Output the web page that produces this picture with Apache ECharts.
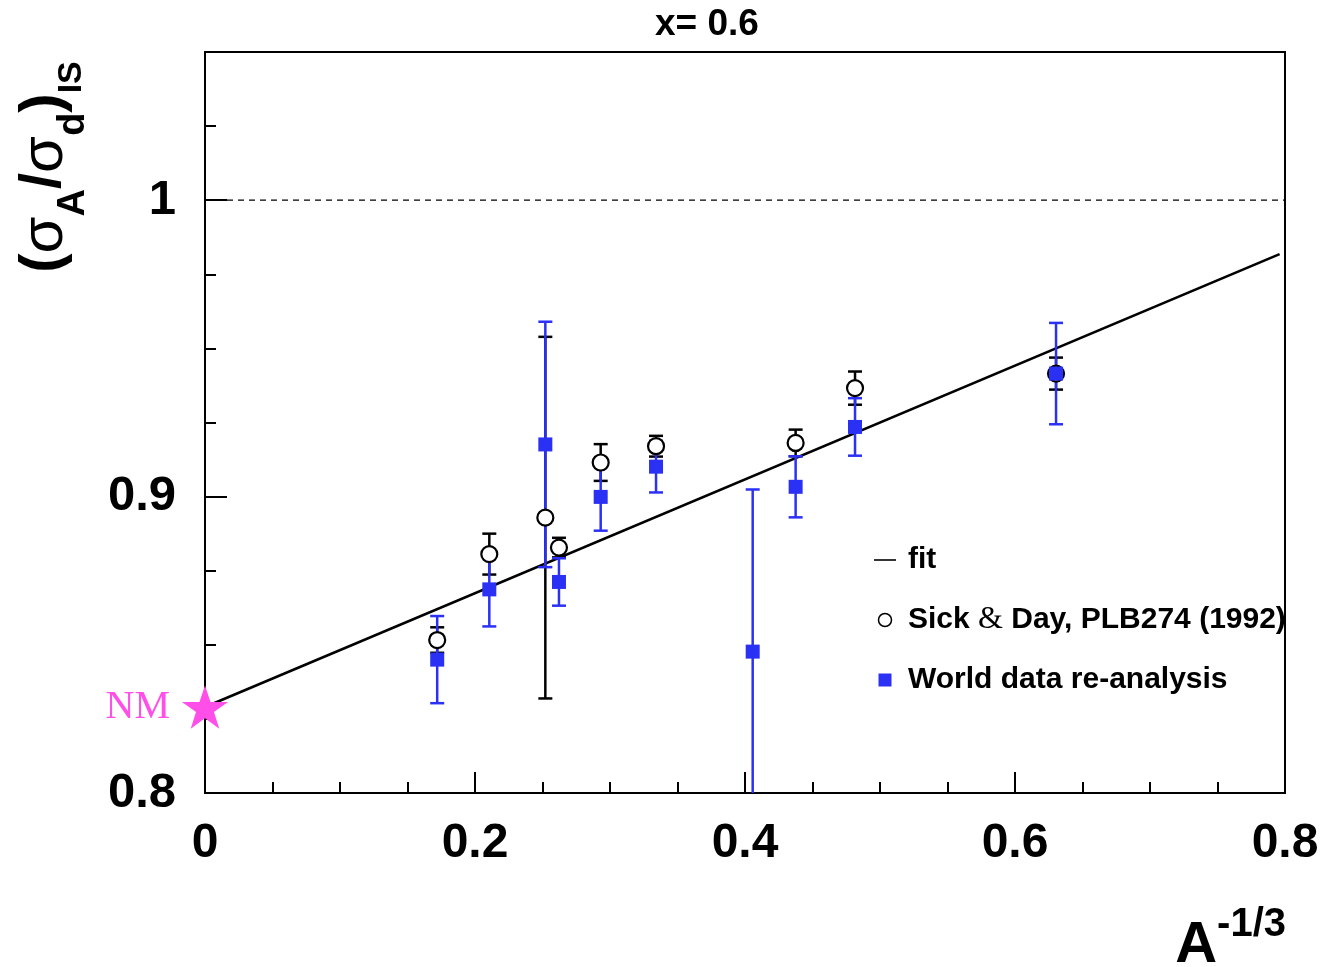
<!DOCTYPE html>
<html>
<head>
<meta charset="utf-8">
<script src="https://cdn.jsdelivr.net/npm/echarts@6/dist/echarts.min.js"></script>
<style>html,body{margin:0;padding:0;background:#fff;}#chart{width:1323px;height:967px;}</style>
</head>
<body>
<div id="chart"></div>
<script>
// ---- data ----
const worldX   = [0.172, 0.2106, 0.2521, 0.2622, 0.2931, 0.3341, 0.4057, 0.4375, 0.4815, 0.6304];
const worldY   = [0.845, 0.8687, 0.9176, 0.8712, 0.8999, 0.9101, 0.8477, 0.9033, 0.9235, 0.9415];
const worldErr = [0.0147, 0.0125, 0.0414, 0.0080, 0.0114, 0.0087, 0.0547, 0.0103, 0.0097, 0.0171];

const sickX    = [0.172, 0.2106, 0.2521, 0.2622, 0.2931, 0.3341, 0.4375, 0.4815, 0.6304];
const sickY    = [0.8516, 0.8806, 0.8929, 0.8828, 0.9115, 0.9170, 0.9181, 0.9366, 0.9415];
const sickErr  = [0.0043, 0.0069, 0.0610, 0.0033, 0.0062, 0.0035, 0.0045, 0.0056, 0.0054];

const fitX = [0, 0.796];
const fitY = [0.829, 0.9818];

const refX = [0, 0.8];
const refY = [1, 1];

const nmX = [0];
const nmY = [0.829];

const xTickLabels = ['0', '0.2', '0.4', '0.6', '0.8'];
const yTickLabels = ['0.8', '0.9', '1'];

const NAME_FIT = 'fit';
const NAME_SICK = 'Sick & Day, PLB274 (1992)';
const NAME_WORLD = 'World data re-analysis';

const BLUE = '#2b30f5';
const MAGENTA = '#ff4fe8';
const FONT = '"Liberation Sans", Arial, Helvetica, sans-serif';
const SERIF = '"Liberation Serif", "Times New Roman", serif';

const zip3 = (a, b, c) => a.map((v, i) => [v, b[i], c[i]]);
const zip2 = (a, b) => a.map((v, i) => [v, b[i]]);

function errRender(color) {
  return function (params, api) {
    const x = api.value(0), y = api.value(1), e = api.value(2);
    const top = api.coord([x, y + e]);
    const bot = api.coord([x, y - e]);
    const hw = 7;
    const st = { stroke: color, lineWidth: 2.5 };
    return {
      type: 'group',
      children: [
        { type: 'line', shape: { x1: top[0], y1: top[1], x2: bot[0], y2: bot[1] }, style: st },
        { type: 'line', shape: { x1: top[0] - hw, y1: top[1], x2: top[0] + hw, y2: top[1] }, style: st },
        { type: 'line', shape: { x1: bot[0] - hw, y1: bot[1], x2: bot[0] + hw, y2: bot[1] }, style: st }
      ]
    };
  };
}

const chart = echarts.init(document.getElementById('chart'), null, { renderer: 'canvas' });

const option = {
  backgroundColor: '#fff',
  animation: false,
  title: {
    text: 'x= 0.6',
    left: 650, top: 1,
    textStyle: { fontFamily: FONT, fontWeight: 'bold', fontSize: 37, color: '#000' }
  },
  grid: {
    left: 205, right: 38, top: 52, bottom: 174,
    show: true, borderColor: '#000', borderWidth: 2, backgroundColor: 'transparent'
  },
  xAxis: {
    type: 'value', min: 0, max: 0.8, interval: 0.2,
    axisLine: { show: true, onZero: false, lineStyle: { color: '#000', width: 2 } },
    axisTick: { show: true, inside: true, length: 21, lineStyle: { color: '#000', width: 2 } },
    minorTick: { show: true, splitNumber: 4, length: 11, lineStyle: { color: '#000', width: 2 } },
    splitLine: { show: false },
    axisLabel: {
      margin: 27, color: '#000', fontFamily: FONT, fontWeight: 'bold', fontSize: 48,
      formatter: function (v) {
        const i = Math.round(v / 0.2);
        return xTickLabels[i] !== undefined ? xTickLabels[i] : '';
      }
    }
  },
  yAxis: [
    {
      type: 'value', min: 0.8, max: 1.05, interval: 0.1,
      axisLine: { show: true, onZero: false, lineStyle: { color: '#000', width: 2 } },
      axisTick: { show: true, inside: true, length: 22, lineStyle: { color: '#000', width: 2 } },
      splitLine: { show: false },
      axisLabel: {
        margin: 29, color: '#000', fontFamily: FONT, fontWeight: 'bold', fontSize: 49,
        formatter: function (v) {
          const i = Math.round((v - 0.8) / 0.1);
          if (Math.abs(v - (0.8 + i * 0.1)) > 1e-6) return '';
          return yTickLabels[i] !== undefined ? yTickLabels[i] : '';
        }
      }
    },
    {
      type: 'value', min: 0.8, max: 1.05, interval: 0.025, position: 'left', offset: 0,
      axisLine: { show: false },
      axisTick: { show: true, inside: true, length: 11, lineStyle: { color: '#000', width: 2 } },
      axisLabel: { show: false },
      splitLine: { show: false }
    }
  ],
  legend: {
    orient: 'vertical',
    left: 869, top: 540,
    itemWidth: 22, itemHeight: 13,
    itemGap: 29,
    selectedMode: false,
    textStyle: {
      fontFamily: FONT, fontWeight: 'bold', fontSize: 30, color: '#000', lineHeight: 30,
      padding: [0, 0, 0, 7],
      rich: {
        amp: { fontFamily: SERIF, fontWeight: 'normal', fontSize: 32, color: '#000' }
      }
    },
    formatter: function (name) {
      return name === NAME_SICK ? 'Sick {amp|&} Day, PLB274 (1992)' : name;
    },
    data: [
      { name: NAME_FIT, icon: 'path://M0,0H22V1.6H0Z', itemStyle: { color: '#000', borderWidth: 0 } },
      { name: NAME_SICK, icon: 'circle', itemStyle: { color: '#fff', borderColor: '#000', borderWidth: 1.5 } },
      { name: NAME_WORLD, icon: 'path://M0,0H10V10H0Z', itemStyle: { color: BLUE, borderWidth: 0 } }
    ]
  },
  graphic: [
    {
      type: 'text',
      x: 46, y: 167,
      rotation: Math.PI / 2,
      style: {
        text: '{p|(}{g|σ}{s|A}{p|/}{g|σ}{s|d}{p|)}{t|IS}',
        align: 'center', verticalAlign: 'middle',
        fill: '#000',
        rich: {
          p: { fontFamily: FONT, fontWeight: 'bold', fontSize: 58, lineHeight: 62, verticalAlign: 'top' },
          g: { fontFamily: FONT, fontWeight: 'normal', fontSize: 60, lineHeight: 62, verticalAlign: 'top' },
          s: { fontFamily: FONT, fontWeight: 'bold', fontSize: 38, lineHeight: 26, padding: [40, 0, 0, 0], verticalAlign: 'top' },
          t: { fontFamily: FONT, fontWeight: 'bold', fontSize: 34, lineHeight: 26, padding: [40, 0, 0, 0], verticalAlign: 'top' }
        }
      }
    },
    {
      type: 'text',
      x: 1286, y: 905,
      style: {
        text: '{a|A}{s|-1/3}',
        align: 'right', verticalAlign: 'top',
        fill: '#000',
        rich: {
          a: { fontFamily: FONT, fontWeight: 'bold', fontSize: 58, lineHeight: 62, padding: [12, 0, 0, 0], verticalAlign: 'top' },
          s: { fontFamily: FONT, fontWeight: 'bold', fontSize: 40, lineHeight: 40, verticalAlign: 'top' }
        }
      }
    }
  ],
  series: [
    {
      name: 'unity', type: 'line', data: zip2(refX, refY), symbol: 'none', silent: true,
      lineStyle: { color: '#000', width: 1.3, type: [6, 5] }, z: 1
    },
    {
      name: NAME_FIT, type: 'line', data: zip2(fitX, fitY), symbol: 'none',
      lineStyle: { color: '#000', width: 2.6 }, itemStyle: { color: '#000' }, z: 2
    },
    {
      name: 'Sick & Day errors', type: 'custom', data: zip3(sickX, sickY, sickErr),
      renderItem: errRender('#000'), clip: true, z: 3
    },
    {
      name: 'World data errors', type: 'custom', data: zip3(worldX, worldY, worldErr),
      renderItem: errRender(BLUE), clip: true, z: 4
    },
    {
      name: NAME_SICK, type: 'scatter', data: zip2(sickX, sickY), symbol: 'circle', symbolSize: 16,
      itemStyle: { color: '#fff', borderColor: '#000', borderWidth: 2.2, opacity: 1 }, z: 5
    },
    {
      name: NAME_WORLD, type: 'scatter', data: zip2(worldX, worldY), symbol: 'rect', symbolSize: 14,
      itemStyle: { color: BLUE, opacity: 1 }, z: 6
    },
    {
      name: 'NM', type: 'scatter', data: zip2(nmX, nmY), clip: false,
      symbol: 'path://M50,0 L61.8,35.1 L98.9,35.1 L69.1,56.7 L80.3,91.9 L50,70 L19.7,91.9 L30.9,56.7 L1.1,35.1 L38.2,35.1 Z',
      symbolSize: 46, symbolKeepAspect: true,
      itemStyle: { color: MAGENTA, opacity: 1 },
      label: {
        show: true, position: 'left', distance: 12, formatter: 'NM',
        fontFamily: SERIF, fontSize: 40, color: MAGENTA
      },
      z: 7
    }
  ]
};

chart.setOption(option);
</script>
</body>
</html>
